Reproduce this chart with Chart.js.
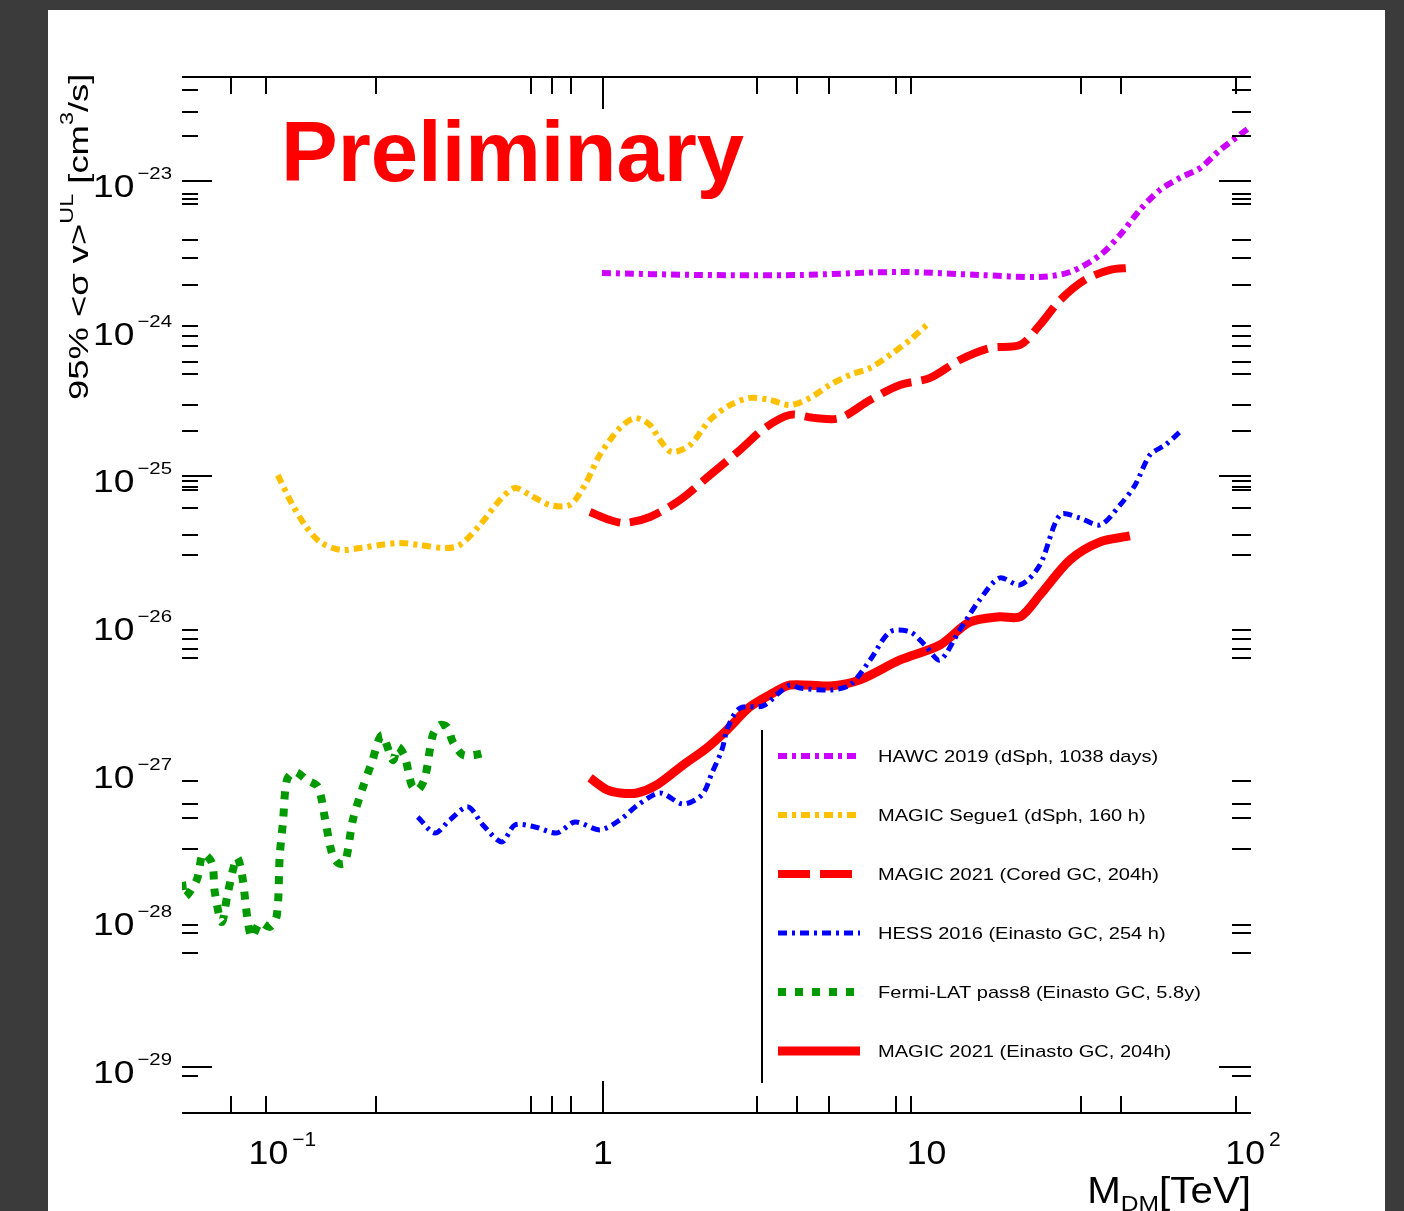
<!DOCTYPE html>
<html>
<head>
<meta charset="utf-8">
<title>DM annihilation limits</title>
<script src="https://cdn.jsdelivr.net/npm/chart.js@4.4.1/dist/chart.umd.min.js"></script>
<style>
  html, body { margin: 0; padding: 0; }
  body { width: 1404px; height: 1211px; overflow: hidden; background: #3b3b3b; position: relative; }
  #panel { position: absolute; left: 48px; top: 10px; width: 1337px; height: 1220px; background: #ffffff; }
  #limits { position: absolute; left: 0; top: 0; }
</style>
</head>
<body>
<div id="panel"></div>
<canvas id="limits" width="1404" height="1211"></canvas>
<script>
// masses in TeV, <sigma v> upper limits in cm^3/s
const hawcMass = [0.993, 2.02, 4.19, 8.68, 15.5, 24.0, 29.9, 37.2, 43.0, 49.7, 57.5, 66.5, 76.9, 89.0, 110];
const hawcSigv = [2.38e-24, 2.31e-24, 2.31e-24, 2.42e-24, 2.31e-24, 2.24e-24, 2.42e-24, 3.15e-24, 4.31e-24, 6.37e-24, 8.69e-24, 1.05e-23, 1.22e-23, 1.62e-23, 2.29e-23];

const segueMass = [0.094, 0.1026, 0.1144, 0.1276, 0.1476, 0.1708, 0.1974, 0.2284, 0.264, 0.317,
  0.353, 0.409, 0.4727, 0.527, 0.588, 0.680, 0.786, 0.877, 0.978, 1.132,
  1.262, 1.408, 1.514, 1.652, 1.883, 2.178, 2.52, 2.914, 3.37, 3.90,
  4.51, 5.21, 6.03, 6.98, 8.07, 9.33, 10.8];
const segueSigv = [1.02e-25, 6.92e-26, 4.69e-26, 3.60e-26, 3.18e-26, 3.27e-26, 3.43e-26, 3.54e-26, 3.43e-26, 3.27e-26,
  3.43e-26, 4.69e-26, 6.92e-26, 8.34e-26, 7.48e-26, 6.40e-26, 6.40e-26, 8.75e-26, 1.40e-25, 2.13e-25,
  2.48e-25, 2.23e-25, 1.76e-25, 1.46e-25, 1.63e-25, 2.41e-25, 3.04e-25, 3.40e-25, 3.29e-25, 3.04e-25,
  3.40e-25, 4.16e-25, 4.86e-25, 5.42e-25, 6.64e-25, 8.38e-25, 1.11e-24];

const coredMass = [0.910, 1.052, 1.174, 1.408, 1.751, 2.178, 2.71, 3.25, 3.90, 4.68, 5.61,
  6.98, 8.68, 10.8, 13.4, 16.7, 20.8, 24.0, 27.8, 33.3, 40.0, 46.2];
const coredSigv = [5.74e-26, 5.07e-26, 4.84e-26, 5.31e-26, 6.92e-26, 1.02e-25, 1.51e-25, 2.13e-25, 2.61e-25, 2.48e-25, 2.48e-25,
  3.29e-25, 4.16e-25, 4.64e-25, 6.14e-25, 7.40e-25, 7.76e-25, 1.06e-24, 1.56e-24, 2.14e-24, 2.50e-24, 2.58e-24];

const hessMass = [0.260, 0.2945, 0.3286, 0.3745, 0.4177, 0.4797, 0.527, 0.610, 0.7155, 0.816,
  0.978, 1.132, 1.290, 1.514, 1.790, 2.055, 2.210, 2.377, 2.483, 2.71,
  3.20, 3.625, 3.90, 4.19, 5.21, 6.03, 6.98, 8.07, 9.33, 10.4,
  11.6, 13.4, 15.5, 17.9, 20.8, 24.0, 27.8, 32.1, 37.2, 43.0,
  48.0, 53.5, 59.7, 66.5];
const hessSigv = [4.94e-28, 3.85e-28, 4.72e-28, 5.78e-28, 4.36e-28, 3.35e-28, 4.36e-28, 4.23e-28, 3.85e-28, 4.57e-28,
  4.04e-28, 4.72e-28, 5.96e-28, 7.18e-28, 6.05e-28, 6.97e-28, 9.8e-28, 1.41e-27, 2.01e-27, 2.70e-27,
  2.79e-27, 3.47e-27, 3.87e-27, 3.69e-27, 3.58e-27, 3.87e-27, 5.71e-27, 8.85e-27, 8.85e-27, 7.21e-27,
  5.71e-27, 9.12e-27, 1.46e-26, 2.05e-26, 1.84e-26, 2.51e-26, 5.48e-26, 5.23e-26, 4.69e-26, 6.40e-26,
  8.75e-26, 1.40e-25, 1.63e-25, 2.0e-25];

const fermiMass = [0.0468, 0.0478, 0.0521, 0.0545, 0.0582, 0.0594, 0.0625, 0.0653, 0.0698, 0.0723,
  0.0756, 0.0778, 0.0825, 0.0887, 0.0933, 0.0953, 0.0975, 0.1004, 0.1064, 0.116,
  0.1258, 0.1323, 0.139, 0.1455, 0.153, 0.1622, 0.1732, 0.1862, 0.2003, 0.217,
  0.225, 0.2367, 0.249, 0.260, 0.274, 0.290, 0.3055, 0.3215, 0.3357, 0.361,
  0.394, 0.433];
const fermiSigv = [1.79e-28, 1.42e-28, 1.85e-28, 2.77e-28, 2.41e-28, 1.53e-28, 9.6e-29, 1.51e-28, 2.61e-28, 2.06e-28,
  9.6e-29, 7.6e-29, 9.5e-29, 8.9e-29, 1.07e-28, 2.73e-28, 4.5e-28, 8.8e-28, 1.0e-27, 8.8e-28,
  7.9e-28, 4.87e-28, 2.86e-28, 2.41e-28, 2.41e-28, 4.72e-28, 7.5e-28, 1.16e-27, 1.77e-27, 1.2e-27,
  1.47e-27, 1.26e-27, 8.1e-28, 7.5e-28, 9.1e-28, 1.77e-27, 2.07e-27, 2.01e-27, 1.59e-27, 1.30e-27,
  1.30e-27, 1.36e-27];

const einastoMass = [0.910, 1.03, 1.132, 1.28, 1.48, 1.79, 2.13, 2.465, 2.914, 3.445, 3.90,
  5.21, 6.49, 8.68, 11.6, 14.4, 17.9, 20.8, 24.0, 29.9, 37.2, 46.2];
const einastoSigv = [9.08e-28, 7.54e-28, 7.18e-28, 7.18e-28, 8.15e-28, 1.11e-27, 1.45e-27, 1.92e-27, 2.75e-27, 3.41e-27, 3.87e-27,
  3.81e-27, 4.19e-27, 5.71e-27, 7.21e-27, 1.03e-26, 1.12e-26, 1.12e-26, 1.57e-26, 2.72e-26, 3.60e-26, 3.95e-26];

const seriesLabels = [
  "HAWC 2019 (dSph, 1038 days)",
  "MAGIC Segue1 (dSph, 160 h)",
  "MAGIC 2021 (Cored GC, 204h)",
  "HESS 2016 (Einasto GC, 254 h)",
  "Fermi-LAT pass8 (Einasto GC, 5.8y)",
  "MAGIC 2021 (Einasto GC, 204h)"
];

// axis ticks (frame is drawn ROOT style: ticks inside, no side lines)
const xMinorTicks = [0.0666, 0.086, 0.192, 0.593, 0.69, 0.79, 3.06, 4.09, 5.16, 8.4, 9.4, 32.4, 43.4, 100];
const xMajorTicks = [1];
const xTickLabels = [[0.1, "10", "\u22121"], [1, "1", ""], [10, "10", ""], [100, "10", "2"]];
const yMinorExp = [-22.384, -22.533, -22.695, -23.088, -23.122, -23.156, -23.399, -23.521, -23.704,
  -23.982, -24.049, -24.117, -24.225, -24.307, -24.517, -24.693, -25.031, -25.072, -25.092,
  -25.214, -25.397, -25.532, -26.04, -26.10, -26.17, -26.23, -27.06, -27.22, -27.31, -27.52,
  -28.04, -28.09, -28.23, -29.06];
const yMajorExp = [-23, -25, -29];
const yTickLabels = [-23, -24, -25, -26, -27, -28, -29];

const FONT = '"Liberation Sans", Arial, Helvetica, sans-serif';
// ROOT puts the upper decade labels a little right of their ticks
const xLabelNudge = { 0.1: -4, 1: 0, 10: 7, 100: 17 };

function toPoints(xs, ys) {
  return xs.map((m, i) => ({ x: m, y: ys[i] }));
}

// draws a run of text pieces (base / super / subscript), horizontally stretched like the ROOT fonts
function richWidth(ctx, parts, sx) {
  let w = 0;
  parts.forEach(p => {
    ctx.font = p.size + 'px ' + FONT;
    w += ctx.measureText(p.t).width * sx + (p.gap || 0);
  });
  return w;
}
function drawRich(ctx, parts, x, y, sx) {
  let cx = x;
  parts.forEach(p => {
    ctx.font = p.size + 'px ' + FONT;
    ctx.save();
    ctx.translate(cx, y + (p.dy || 0));
    ctx.scale(sx, 1);
    ctx.textAlign = 'left';
    ctx.textBaseline = 'alphabetic';
    ctx.fillText(p.t, 0, 0);
    ctx.restore();
    cx += ctx.measureText(p.t).width * sx + (p.gap || 0);
  });
}

const rootFrame = {
  id: 'rootFrame',
  afterDraw(chart) {
    const { ctx, chartArea: a, scales } = chart;
    const xs = scales.x, ys = scales.y;
    ctx.save();
    ctx.strokeStyle = '#000';
    ctx.fillStyle = '#000';
    ctx.lineWidth = 2;
    ctx.setLineDash([]);

    // top and bottom frame lines
    ctx.beginPath();
    ctx.moveTo(a.left, a.top); ctx.lineTo(a.right, a.top);
    ctx.moveTo(a.left, a.bottom); ctx.lineTo(a.right, a.bottom);
    ctx.stroke();

    // x ticks on both horizontal edges
    ctx.beginPath();
    xMinorTicks.concat(xMajorTicks).forEach(v => {
      const len = xMajorTicks.includes(v) ? 32 : 17;
      const px = Math.round(xs.getPixelForValue(v));
      ctx.moveTo(px, a.bottom); ctx.lineTo(px, a.bottom - len);
      ctx.moveTo(px, a.top); ctx.lineTo(px, a.top + len);
    });
    ctx.stroke();

    // y ticks on both vertical edges
    ctx.beginPath();
    yMinorExp.concat(yMajorExp).forEach(e => {
      const major = yMajorExp.includes(e);
      const py = Math.round(ys.getPixelForValue(Math.pow(10, e)));
      ctx.moveTo(a.left, py); ctx.lineTo(a.left + (major ? 30 : 16), py);
      ctx.moveTo(a.right, py); ctx.lineTo(a.right - (major ? 32 : 19), py);
    });
    ctx.stroke();

    // y tick labels
    yTickLabels.forEach(e => {
      const py = ys.getPixelForValue(Math.pow(10, e));
      const parts = [
        { t: '10', size: 31, gap: 3 },
        { t: '\u2212' + String(-e), size: 17, dy: -18 }
      ];
      const w = richWidth(ctx, parts, 1.2);
      drawRich(ctx, parts, 172 - w, py + 16, 1.2);
    });

    // x tick labels
    xTickLabels.forEach(([v, base, sup]) => {
      const px = xs.getPixelForValue(v) + (xLabelNudge[v] || 0);
      const parts = [{ t: base, size: 34, gap: sup ? 4 : 0 }];
      if (sup) parts.push({ t: sup, size: 20, dy: -18 });
      const w = richWidth(ctx, parts, 1.05);
      drawRich(ctx, parts, px - w / 2, 1164, 1.05);
    });

    // axis titles
    const xt = [
      { t: 'M', size: 36 },
      { t: 'DM', size: 22, dy: 8 },
      { t: '[TeV]', size: 36 }
    ];
    drawRich(ctx, xt, 1251 - richWidth(ctx, xt, 1.12), 1203, 1.12);

    ctx.save();
    ctx.translate(88, 400);
    ctx.rotate(-Math.PI / 2);
    drawRich(ctx, [
      { t: '95% <\u03c3 v>', size: 28 },
      { t: 'UL', size: 18, dy: -15 },
      { t: ' [cm', size: 28 },
      { t: '3', size: 18, dy: -15 },
      { t: '/s]', size: 28 }
    ], 0, 0, 1.3);
    ctx.restore();

    // "Preliminary" stamp
    ctx.fillStyle = '#ff0000';
    ctx.font = 'bold 85px ' + FONT;
    ctx.textAlign = 'left';
    ctx.textBaseline = 'alphabetic';
    ctx.fillText('Preliminary', 281, 181);

    // legend with its left bar
    ctx.strokeStyle = '#000';
    ctx.lineWidth = 2;
    ctx.beginPath();
    ctx.moveTo(762, 730); ctx.lineTo(762, 1083);
    ctx.stroke();
    chart.data.datasets.forEach((ds, i) => {
      const ly = 756 + i * 59;
      ctx.save();
      ctx.strokeStyle = ds.borderColor;
      ctx.lineWidth = ds.borderWidth;
      ctx.setLineDash(ds.borderDash || []);
      ctx.beginPath();
      ctx.moveTo(778, ly); ctx.lineTo(860, ly);
      ctx.stroke();
      ctx.restore();
      ctx.fillStyle = '#000';
      drawRich(ctx, [{ t: ds.label, size: 17 }], 878, ly + 6, 1.18);
    });
    ctx.restore();
  }
};

const ctx = document.getElementById('limits').getContext('2d');

new Chart(ctx, {
  type: 'line',
  data: {
    datasets: [
      { label: seriesLabels[0], data: toPoints(hawcMass, hawcSigv), borderColor: '#cc00ff', borderWidth: 6, borderDash: [9, 5, 4, 5] },
      { label: seriesLabels[1], data: toPoints(segueMass, segueSigv), borderColor: '#ffc000', borderWidth: 6, borderDash: [9, 5, 4, 5] },
      { label: seriesLabels[2], data: toPoints(coredMass, coredSigv), borderColor: '#ff0000', borderWidth: 8, borderDash: [32, 10] },
      { label: seriesLabels[3], data: toPoints(hessMass, hessSigv), borderColor: '#0000ff', borderWidth: 5, borderDash: [9, 5, 3, 5] },
      { label: seriesLabels[4], data: toPoints(fermiMass, fermiSigv), borderColor: '#009900', borderWidth: 8, borderDash: [8, 9] },
      { label: seriesLabels[5], data: toPoints(einastoMass, einastoSigv), borderColor: '#ff0000', borderWidth: 9 }
    ]
  },
  options: {
    responsive: false,
    animation: false,
    layout: { padding: { left: 182, top: 77, right: 153, bottom: 98 } },
    scales: {
      x: { type: 'logarithmic', min: 0.0468, max: 111.5, display: false },
      y: { type: 'logarithmic', min: 4.89e-30, max: 5.06e-23, display: false }
    },
    elements: {
      point: { radius: 0 },
      line: { tension: 0.3, fill: false }
    },
    plugins: {
      legend: { display: false },
      tooltip: { enabled: false }
    }
  },
  plugins: [rootFrame]
});
</script>
</body>
</html>
